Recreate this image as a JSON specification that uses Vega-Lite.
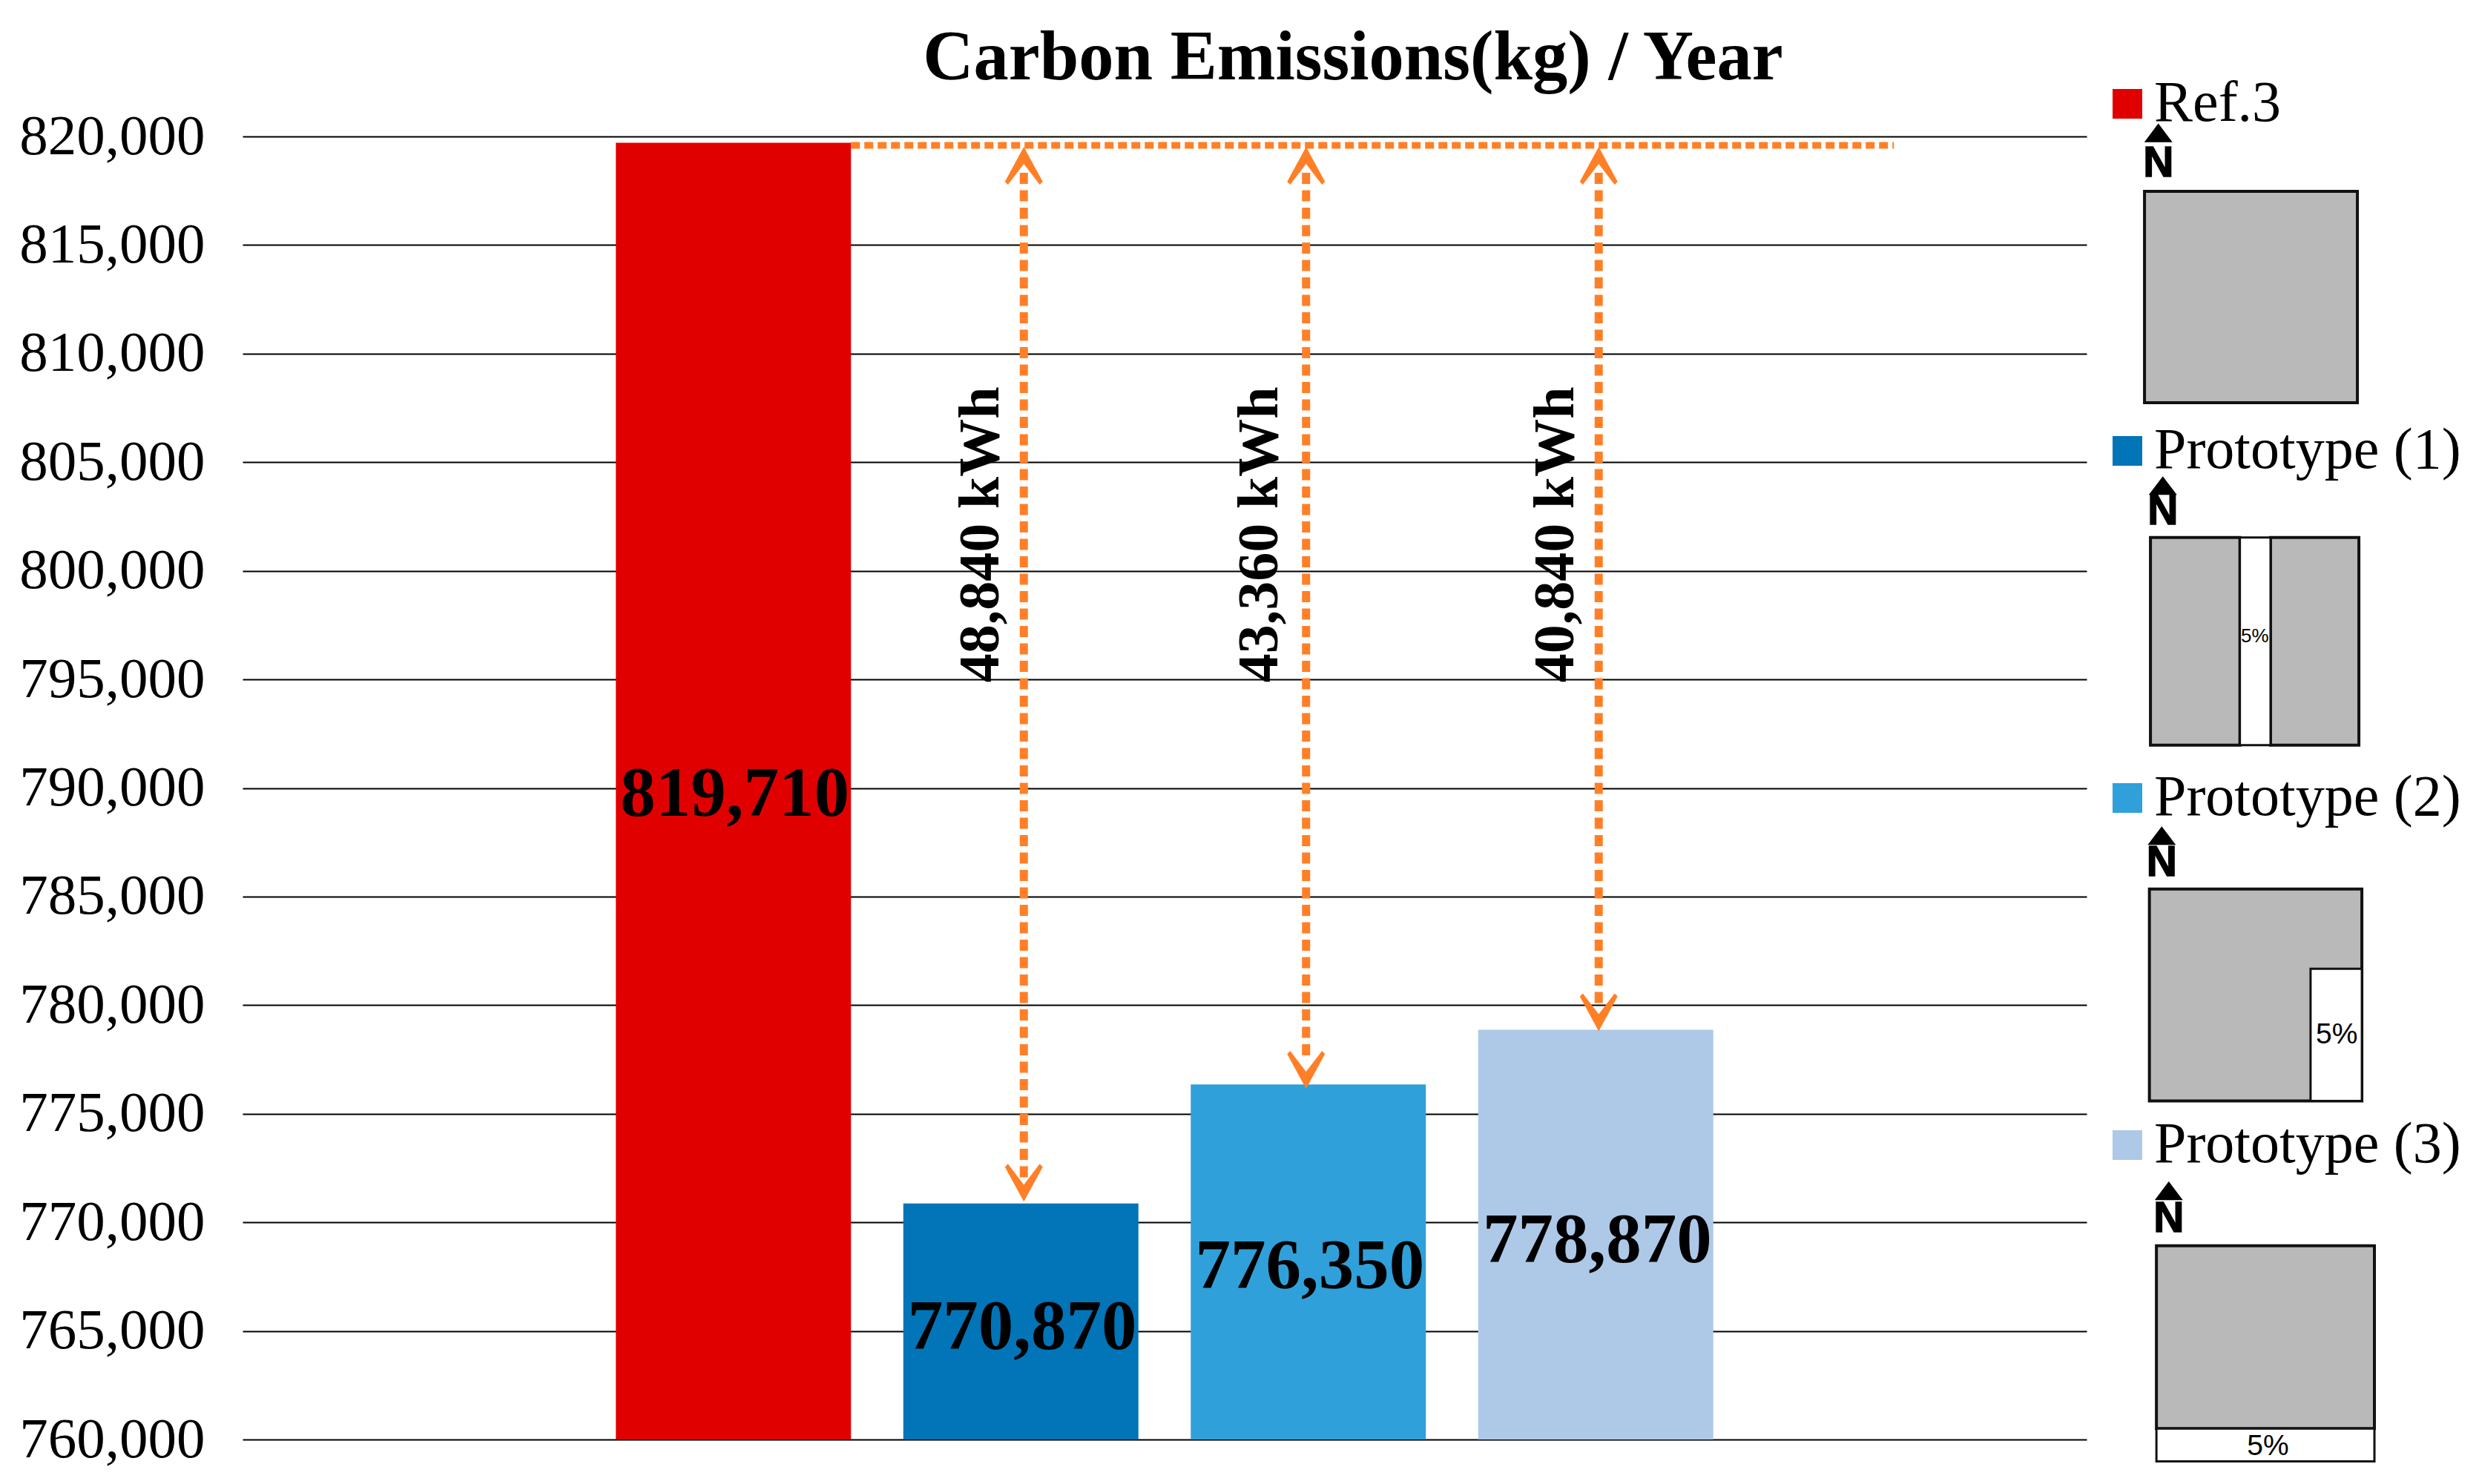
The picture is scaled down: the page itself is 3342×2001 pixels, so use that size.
{
  "$schema": "https://vega.github.io/schema/vega-lite/v6.json",
  "width": 2486,
  "height": 1757,
  "autosize": "none",
  "padding": {"left": 327, "top": 184, "right": 529, "bottom": 60},
  "background": "white",
  "config": {"view": {"stroke": null}},
  "title": {
    "text": "Carbon Emissions(kg) / Year",
    "font": "Liberation Serif",
    "fontWeight": "bold",
    "fontSize": 94.5,
    "color": "black",
    "anchor": "middle",
    "dx": 254,
    "offset": -25
  },
  "datasets": {
    "bars": [
      {"name": "Ref.3", "emissions": 819710, "mid": 789710},
      {"name": "Prototype (1)", "emissions": 770870, "mid": 765145},
      {"name": "Prototype (2)", "emissions": 776350, "mid": 767955},
      {"name": "Prototype (3)", "emissions": 778870, "mid": 769145}
    ],
    "arrows": [
      {"name": "Prototype (1)", "tip_up": 819520, "tail_up": 818330, "tail_down": 771950, "tip_down": 770950, "text_at": 801667, "saving": "48,840 kWh"},
      {"name": "Prototype (2)", "tip_up": 819520, "tail_up": 818330, "tail_down": 777630, "tip_down": 776150, "text_at": 801667, "saving": "43,360 kWh"},
      {"name": "Prototype (3)", "tip_up": 819520, "tail_up": 818330, "tail_down": 780070, "tip_down": 778800, "text_at": 801667, "saving": "40,840 kWh"}
    ],
    "plans": [
      {"plan": "Ref.3", "part": "floor", "x0": 0, "x1": 100, "y0": 0, "y1": 99.3},
      {"plan": "Prototype (1)", "part": "floor", "x0": 2.8, "x1": 44.8, "y0": 162.7, "y1": 260.3},
      {"plan": "Prototype (1)", "part": "floor", "x0": 59.2, "x1": 100.7, "y0": 162.7, "y1": 260.3},
      {"plan": "Prototype (1)", "part": "void", "x0": 44.8, "x1": 59.2, "y0": 162.7, "y1": 260.3},
      {"plan": "Prototype (2)", "part": "floor", "x0": 2.3, "x1": 102.1, "y0": 327.9, "y1": 427.5},
      {"plan": "Prototype (2)", "part": "void", "x0": 78, "x1": 102.1, "y0": 365.4, "y1": 427.5},
      {"plan": "Prototype (3)", "part": "floor", "x0": 5.6, "x1": 108, "y0": 495.5, "y1": 581.5},
      {"plan": "Prototype (3)", "part": "void", "x0": 5.6, "x1": 108, "y0": 581.5, "y1": 596.9}
    ],
    "north": [
      {"plan": "Ref.3", "x": 6.5, "cap": -27.5, "base": -6.9},
      {"plan": "Prototype (1)", "x": 8.6, "cap": 138.3, "base": 156.5},
      {"plan": "Prototype (2)", "x": 8.1, "cap": 302.8, "base": 321.6},
      {"plan": "Prototype (3)", "x": 11.4, "cap": 469.7, "base": 488.9}
    ],
    "voidLabels": [
      {"plan": "Prototype (1)", "x": 51.8, "y": 209.2, "label": "5%"},
      {"plan": "Prototype (2)", "x": 90.3, "y": 396.3, "label": "5%"},
      {"plan": "Prototype (3)", "x": 58, "y": 589.7, "label": "5%"}
    ]
  },
  "resolve": {"scale": {"x": "independent", "y": "independent"}},
  "layer": [
    {
      "encoding": {
        "x": {
          "field": "name",
          "type": "nominal",
          "axis": null,
          "scale": {
            "domain": ["", "Ref.3", "Prototype (1)", "Prototype (2)", "Prototype (3)", " "],
            "paddingInner": 0.182,
            "paddingOuter": 0.2987
          }
        }
      },
      "layer": [
        {
          "data": {"name": "bars"},
          "mark": {"type": "bar"},
          "encoding": {
            "y": {
              "field": "emissions",
              "type": "quantitative",
              "title": null,
              "scale": {"domain": [760000, 820000], "nice": false, "zero": false},
              "axis": {
                "values": [760000, 765000, 770000, 775000, 780000, 785000, 790000, 795000, 800000, 805000, 810000, 815000, 820000],
                "format": ",.0f",
                "grid": true,
                "gridColor": "black",
                "gridWidth": 2,
                "domain": false,
                "ticks": false,
                "labelFont": "Liberation Serif",
                "labelFontSize": 77,
                "labelColor": "black",
                "labelPadding": 51,
                "labelLimit": 400
              }
            },
            "y2": {"datum": 760000},
            "color": {
              "field": "name",
              "type": "nominal",
              "sort": null,
              "scale": {
                "domain": ["Ref.3", "Prototype (1)", "Prototype (2)", "Prototype (3)"],
                "range": ["#E10000", "#0274B8", "#30A0DA", "#AEC8E8"]
              },
              "legend": {
                "orient": "none",
                "legendX": 2502,
                "legendY": -83,
                "title": null,
                "symbolType": "square",
                "symbolSize": 1600,
                "symbolStrokeWidth": 0,
                "labelFont": "Liberation Serif",
                "labelFontSize": 78,
                "labelColor": "black",
                "labelOffset": -3,
                "labelLimit": 600,
                "rowPadding": 390
              }
            }
          }
        },
        {
          "data": {"name": "bars"},
          "mark": {"type": "text", "font": "Liberation Serif", "fontWeight": "bold", "fontSize": 95, "color": "black", "baseline": "middle", "xOffset": 2},
          "encoding": {
            "y": {"field": "mid", "type": "quantitative"},
            "text": {"field": "emissions", "type": "quantitative", "format": ","}
          }
        },
        {
          "data": {"name": "bars"},
          "transform": [{"filter": "datum.name === 'Ref.3'"}],
          "mark": {"type": "rule", "color": "#FF7F27", "strokeWidth": 9, "strokeDash": [12, 6], "x2Offset": 402},
          "encoding": {
            "x": {"datum": "Ref.3", "bandPosition": 1},
            "x2": {"datum": "Prototype (3)"},
            "y": {"datum": 819590}
          }
        },
        {
          "data": {"name": "arrows"},
          "transform": [{"filter": "datum.name !== 'Prototype (2)'"}],
          "layer": [
            {
              "mark": {"type": "rule", "color": "#FF7F27", "strokeWidth": 11, "strokeDash": [15, 8.5], "xOffset": 4},
              "encoding": {"y": {"field": "tail_up", "type": "quantitative"}, "y2": {"field": "tail_down"}}
            },
            {
              "mark": {"type": "point", "shape": "M0,0 L0.5,0.92 L0.42,1 L0,0.45 L-0.42,1 L-0.5,0.92 Z", "filled": true, "size": 10404, "color": "#FF7F27", "opacity": 1, "xOffset": 4},
              "encoding": {"y": {"field": "tip_up", "type": "quantitative"}}
            },
            {
              "mark": {"type": "point", "shape": "M0,0 L0.5,-0.92 L0.42,-1 L0,-0.45 L-0.42,-1 L-0.5,-0.92 Z", "filled": true, "size": 10404, "color": "#FF7F27", "opacity": 1, "xOffset": 4},
              "encoding": {"y": {"field": "tip_down", "type": "quantitative"}}
            },
            {
              "mark": {"type": "text", "font": "Liberation Serif", "fontWeight": "bold", "fontSize": 78, "color": "black", "angle": 270, "align": "center", "baseline": "alphabetic", "xOffset": -30},
              "encoding": {"y": {"field": "text_at", "type": "quantitative"}, "text": {"field": "saving"}}
            }
          ]
        },
        {
          "data": {"name": "arrows"},
          "transform": [{"filter": "datum.name === 'Prototype (2)'"}],
          "layer": [
            {
              "mark": {"type": "rule", "color": "#FF7F27", "strokeWidth": 11, "strokeDash": [15, 8.5], "xOffset": -3},
              "encoding": {"y": {"field": "tail_up", "type": "quantitative"}, "y2": {"field": "tail_down"}}
            },
            {
              "mark": {"type": "point", "shape": "M0,0 L0.5,0.92 L0.42,1 L0,0.45 L-0.42,1 L-0.5,0.92 Z", "filled": true, "size": 10404, "color": "#FF7F27", "opacity": 1, "xOffset": -3},
              "encoding": {"y": {"field": "tip_up", "type": "quantitative"}}
            },
            {
              "mark": {"type": "point", "shape": "M0,0 L0.5,-0.92 L0.42,-1 L0,-0.45 L-0.42,-1 L-0.5,-0.92 Z", "filled": true, "size": 10404, "color": "#FF7F27", "opacity": 1, "xOffset": -3},
              "encoding": {"y": {"field": "tip_down", "type": "quantitative"}}
            },
            {
              "mark": {"type": "text", "font": "Liberation Serif", "fontWeight": "bold", "fontSize": 78, "color": "black", "angle": 270, "align": "center", "baseline": "alphabetic", "xOffset": -42},
              "encoding": {"y": {"field": "text_at", "type": "quantitative"}, "text": {"field": "saving"}}
            }
          ]
        }
      ]
    },
    {
      "layer": [
        {
          "data": {"name": "plans"},
          "transform": [{"filter": "datum.part === 'floor'"}],
          "mark": {"type": "rect", "fill": "#B9B9B9", "stroke": "#111111", "strokeWidth": 4},
          "encoding": {
            "x": {"field": "x0", "type": "quantitative", "axis": null, "scale": {"domain": [-893.4, -27.2], "nice": false, "zero": false}},
            "x2": {"field": "x1"},
            "y": {"field": "y0", "type": "quantitative", "axis": null, "scale": {"domain": [586.6, -25.8], "nice": false, "zero": false}},
            "y2": {"field": "y1"}
          }
        },
        {
          "data": {"name": "plans"},
          "transform": [{"filter": "datum.part === 'void'"}],
          "mark": {"type": "rect", "fill": "white", "stroke": "#111111", "strokeWidth": 3},
          "encoding": {
            "x": {"field": "x0", "type": "quantitative"},
            "x2": {"field": "x1"},
            "y": {"field": "y0", "type": "quantitative"},
            "y2": {"field": "y1"}
          }
        },
        {
          "data": {"name": "north"},
          "mark": {"type": "point", "shape": "M0,-0.33 L0.5,0.33 L-0.5,0.33 Z", "filled": true, "size": 5776, "color": "black", "opacity": 1},
          "encoding": {
            "x": {"field": "x", "type": "quantitative"},
            "y": {"field": "cap", "type": "quantitative"}
          }
        },
        {
          "data": {"name": "north"},
          "mark": {"type": "text", "text": "N", "font": "Liberation Sans", "fontWeight": "bold", "fontSize": 57, "color": "black", "stroke": "black", "strokeWidth": 1.5, "baseline": "alphabetic"},
          "encoding": {
            "x": {"field": "x", "type": "quantitative"},
            "y": {"field": "base", "type": "quantitative"}
          }
        },
        {
          "data": {"name": "voidLabels"},
          "transform": [{"filter": "datum.plan === 'Prototype (1)'"}],
          "mark": {"type": "text", "font": "Liberation Sans", "fontSize": 26, "color": "black", "baseline": "middle"},
          "encoding": {
            "x": {"field": "x", "type": "quantitative"},
            "y": {"field": "y", "type": "quantitative"},
            "text": {"field": "label"}
          }
        },
        {
          "data": {"name": "voidLabels"},
          "transform": [{"filter": "datum.plan !== 'Prototype (1)'"}],
          "mark": {"type": "text", "font": "Liberation Sans", "fontSize": 39, "color": "black", "baseline": "middle"},
          "encoding": {
            "x": {"field": "x", "type": "quantitative"},
            "y": {"field": "y", "type": "quantitative"},
            "text": {"field": "label"}
          }
        }
      ]
    }
  ]
}
